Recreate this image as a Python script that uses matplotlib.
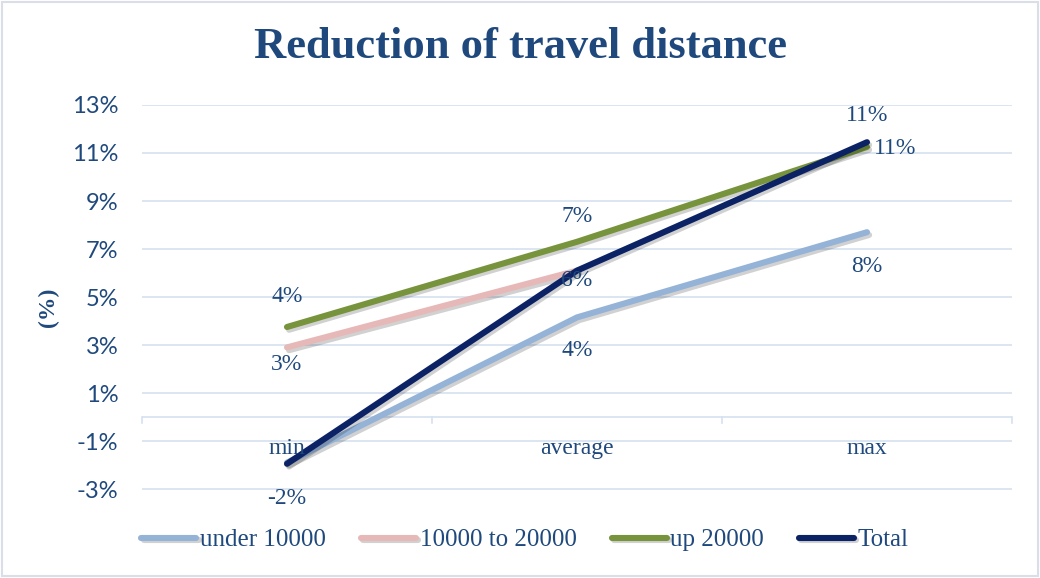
import matplotlib.pyplot as plt
import matplotlib.patheffects as pe
from matplotlib.ticker import FuncFormatter

categories = ['min', 'average', 'max']
under_10000 = [-1.9, 4.15, 7.7]
from_10000_to_20000 = [2.9, 6.1]
up_20000 = [3.75, 7.3, 11.25]
total = [-1.95, 6.1, 11.45]

yticks = [-3, -1, 1, 3, 5, 7, 9, 11, 13]

text_color = '#1F497D'
grid_color = '#D5E1F1'
serif = ['Liberation Serif', 'DejaVu Serif']
sans = ['Lato', 'DejaVu Sans']

fig = plt.figure(figsize=(10.4, 5.78), dpi=100)
ax = fig.add_axes([142 / 1040, 1 - 510.6 / 578, 870 / 1040, 405.6 / 578])

shadow = [pe.SimpleLineShadow(offset=(1.5, -2), alpha=0.18, rho=0.3), pe.Normal()]

series = [
    ('under 10000', under_10000, '#95B3D7'),
    ('10000 to 20000', from_10000_to_20000, '#E6B9B8'),
    ('up 20000', up_20000, '#77933C'),
    ('Total', total, '#0B2265'),
]
for name, vals, col in series:
    ax.plot(range(len(vals)), vals, color=col, lw=4.4, solid_capstyle='round',
            label=name, path_effects=shadow, zorder=3)

lab_kw = dict(color=text_color, fontsize=17, family=serif, ha='center', va='center', zorder=5)

# data labels (value rounded to whole percent)
def lab(x, v, dx=0, dy=0):
    ax.annotate('%d%%' % round(v), (x, v), xytext=(dx, dy), textcoords='offset points', **lab_kw)

lab(1, under_10000[1], 0, -24)
lab(2, under_10000[2], 0, -25)
lab(0, from_10000_to_20000[0], 0, -12)
lab(1, from_10000_to_20000[1], 0, -7)
lab(0, up_20000[0], 0, 22)
lab(1, up_20000[1], 0, 18)
lab(2, up_20000[2], 20, -1)
lab(0, total[0], 0, -25)
lab(2, total[2], 0, 19)

ax.set_xlim(-0.5, 2.5)
ax.set_ylim(-3.9, 13)
ax.set_yticks(yticks)
ax.yaxis.set_major_formatter(FuncFormatter(lambda v, p: '%d%%' % v))
ax.grid(axis='y', color=grid_color, lw=1.2)
ax.set_axisbelow(True)
ax.tick_params(axis='y', length=0, labelsize=17, labelcolor=text_color, pad=17)
for t in ax.get_yticklabels():
    t.set_family(sans)

# category axis at zero
ax.set_xticks([])
ax.axhline(0, color=grid_color, lw=1.2, zorder=1)
for b in [-0.5, 0.5, 1.5, 2.5]:
    ax.plot([b, b], [0, -0.25], color=grid_color, lw=1.2, zorder=1, clip_on=False)
for i, c in enumerate(categories):
    ax.text(i, -1.3, c, color=text_color, fontsize=17, family=serif, ha='center', va='center', zorder=4)

for s in ax.spines.values():
    s.set_visible(False)

ax.set_ylabel('(%)', color=text_color, fontsize=17, fontweight='bold', family=serif, labelpad=9)

fig.text(0.5, 1 - 47 / 578, 'Reduction of travel distance', color=text_color, fontsize=32,
         fontweight='bold', family=serif, ha='center', va='center')

leg = fig.legend(loc='center', bbox_to_anchor=(0.505, 1 - 540 / 578), ncol=4, frameon=False,
                 handlelength=2.2, handletextpad=0.15, columnspacing=1.4,
                 prop={'family': serif, 'size': 18})
for t in leg.get_texts():
    t.set_color(text_color)

fig.patches.append(plt.Rectangle((0.002, 0.003), 0.996, 0.994, transform=fig.transFigure,
                                 fill=False, edgecolor='#D9DEE8', lw=1.5))

fig.savefig('out.png', dpi=100)
